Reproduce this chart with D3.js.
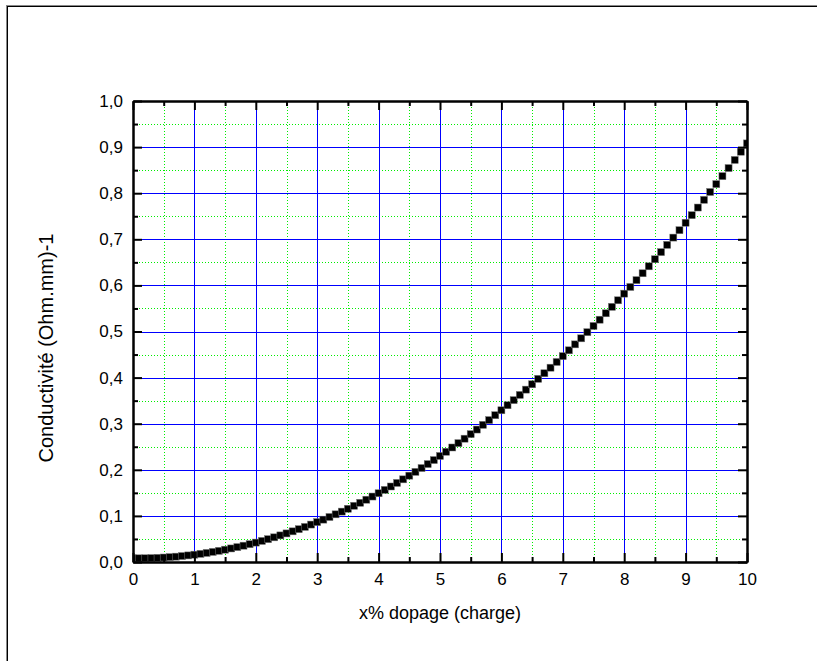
<!DOCTYPE html>
<html><head><meta charset="utf-8">
<script src="https://cdn.jsdelivr.net/npm/d3@7"></script>
<style>body{margin:0;background:#fff} svg{display:block}</style>
</head><body><svg id="c" width="817" height="661"></svg>
<script>
const xValues = [0.0,0.1,0.2,0.3,0.4,0.5,0.6,0.7,0.8,0.9,1.0,1.1,1.2,1.3,1.4,1.5,1.6,1.7,1.8,1.9,2.0,2.1,2.2,2.3,2.4,2.5,2.6,2.7,2.8,2.9,3.0,3.1,3.2,3.3,3.4,3.5,3.6,3.7,3.8,3.9,4.0,4.1,4.2,4.3,4.4,4.5,4.6,4.7,4.8,4.9,5.0,5.1,5.2,5.3,5.4,5.5,5.6,5.7,5.8,5.9,6.0,6.1,6.2,6.3,6.4,6.5,6.6,6.7,6.8,6.9,7.0,7.1,7.2,7.3,7.4,7.5,7.6,7.7,7.8,7.9,8.0,8.1,8.2,8.3,8.4,8.5,8.6,8.7,8.8,8.9,9.0,9.1,9.2,9.3,9.4,9.5,9.6,9.7,9.8,9.9,10.0];
const conductivity = [0.0080,0.0080,0.0081,0.0085,0.0090,0.0097,0.0106,0.0116,0.0129,0.0143,0.0159,0.0177,0.0197,0.0219,0.0242,0.0267,0.0294,0.0323,0.0354,0.0386,0.0421,0.0457,0.0495,0.0535,0.0577,0.0620,0.0665,0.0712,0.0761,0.0812,0.0865,0.0919,0.0976,0.1034,0.1093,0.1155,0.1219,0.1284,0.1351,0.1420,0.1491,0.1564,0.1638,0.1715,0.1793,0.1873,0.1955,0.2038,0.2124,0.2211,0.2300,0.2391,0.2484,0.2578,0.2675,0.2773,0.2873,0.2975,0.3078,0.3184,0.3291,0.3400,0.3511,0.3624,0.3739,0.3855,0.3973,0.4094,0.4215,0.4339,0.4465,0.4592,0.4721,0.4852,0.4985,0.5120,0.5256,0.5395,0.5535,0.5677,0.5821,0.5966,0.6114,0.6263,0.6414,0.6567,0.6722,0.6879,0.7037,0.7197,0.7359,0.7523,0.7689,0.7856,0.8026,0.8197,0.8370,0.8545,0.8721,0.8900,0.9080];
const xTicks = [0,1,2,3,4,5,6,7,8,9,10];
const xMinorTicks = [0.5,1.5,2.5,3.5,4.5,5.5,6.5,7.5,8.5,9.5];
const yTicks = [0,0.1,0.2,0.3,0.4,0.5,0.6,0.7,0.8,0.9,1.0];
const yMinorTicks = [0.05,0.15,0.25,0.35,0.45,0.55,0.65,0.75,0.85,0.95];
const xTitle = "x% dopage (charge)";
const yTitle = "Conductivité (Ohm.mm)-1";

const svg = d3.select("#c");
const W = 817, H = 661;
const m = {left:133, right:747, top:101, bottom:562};
const x = d3.scaleLinear().domain([0,10]).range([m.left, m.right]);
const y = d3.scaleLinear().domain([0,1]).range([m.bottom, m.top]);
const font = "Liberation Sans, Arial, sans-serif";

// outer frame (top and left edges)
svg.append("line").attr("x1",6).attr("x2",W).attr("y1",5.5).attr("y2",5.5).attr("stroke","#888").attr("stroke-width",1);
svg.append("line").attr("x1",7).attr("x2",W).attr("y1",6.5).attr("y2",6.5).attr("stroke","#000").attr("stroke-width",1);
svg.append("line").attr("x1",6.5).attr("x2",6.5).attr("y1",5).attr("y2",H).attr("stroke","#888").attr("stroke-width",1);
svg.append("line").attr("x1",7.5).attr("x2",7.5).attr("y1",6).attr("y2",H).attr("stroke","#000").attr("stroke-width",1);

// grid
const g = svg.append("g");
g.selectAll(".vmin").data(xMinorTicks).join("line")
  .attr("x1",d=>Math.round(x(d))+0.5).attr("x2",d=>Math.round(x(d))+0.5)
  .attr("y1",m.top).attr("y2",m.bottom)
  .attr("stroke","#00ee00").attr("stroke-width",1).attr("stroke-dasharray","1,2");
g.selectAll(".hmin").data(yMinorTicks).join("line")
  .attr("y1",d=>Math.round(y(d))+0.5).attr("y2",d=>Math.round(y(d))+0.5)
  .attr("x1",m.left).attr("x2",m.right)
  .attr("stroke","#00ee00").attr("stroke-width",1).attr("stroke-dasharray","1,2");
g.selectAll(".vmaj").data(xTicks.slice(1,-1)).join("line")
  .attr("x1",d=>Math.round(x(d))+0.5).attr("x2",d=>Math.round(x(d))+0.5)
  .attr("y1",m.top).attr("y2",m.bottom)
  .attr("stroke","#0000ff").attr("stroke-width",1);
g.selectAll(".hmaj").data(yTicks.slice(1,-1)).join("line")
  .attr("y1",d=>Math.round(y(d))+0.5).attr("y2",d=>Math.round(y(d))+0.5)
  .attr("x1",m.left).attr("x2",m.right)
  .attr("stroke","#0000ff").attr("stroke-width",1);

// markers
svg.append("clipPath").attr("id","clip").append("rect")
  .attr("x",m.left).attr("y",m.top).attr("width",m.right-m.left).attr("height",m.bottom-m.top);
const s = 7;
svg.append("g").attr("clip-path","url(#clip)")
  .selectAll("rect").data(xValues.map((v,i)=>[v,conductivity[i]])).join("rect")
  .attr("x",d=>x(d[0])-s/2).attr("y",d=>y(d[1])-s/2)
  .attr("width",s).attr("height",s)
  .attr("fill","#000").attr("stroke","#777").attr("stroke-width",0.5);

// axes
const fmt = d => d3.format(".1f")(d).replace(".", ",");
function styleAxis(sel){
  sel.select(".domain").attr("stroke","#000").attr("stroke-width",2);
  sel.selectAll(".tick line").attr("stroke","#000").attr("stroke-width",2);
  sel.selectAll("text").attr("font-family",font).attr("font-size",17).attr("fill","#000");
}
svg.append("g").attr("transform",`translate(0,${m.bottom})`)
  .call(d3.axisBottom(x).tickValues(xTicks).tickSize(-9).tickSizeOuter(0).tickPadding(11).tickFormat(d3.format("d")))
  .call(styleAxis);
svg.append("g").attr("transform",`translate(0,${m.bottom})`)
  .call(d3.axisBottom(x).tickValues(xMinorTicks).tickSize(-5).tickSizeOuter(0).tickFormat(""))
  .call(styleAxis);
svg.append("g").attr("transform",`translate(0,${m.top})`)
  .call(d3.axisTop(x).tickValues(xTicks).tickSize(-9).tickSizeOuter(0).tickFormat(""))
  .call(styleAxis);
svg.append("g").attr("transform",`translate(0,${m.top})`)
  .call(d3.axisTop(x).tickValues(xMinorTicks).tickSize(-5).tickSizeOuter(0).tickFormat(""))
  .call(styleAxis);
svg.append("g").attr("transform",`translate(${m.left},0)`)
  .call(d3.axisLeft(y).tickValues(yTicks).tickSize(-9).tickSizeOuter(0).tickPadding(10).tickFormat(fmt))
  .call(styleAxis);
svg.append("g").attr("transform",`translate(${m.left},0)`)
  .call(d3.axisLeft(y).tickValues(yMinorTicks).tickSize(-5).tickSizeOuter(0).tickFormat(""))
  .call(styleAxis);
svg.append("g").attr("transform",`translate(${m.right},0)`)
  .call(d3.axisRight(y).tickValues(yTicks).tickSize(-9).tickSizeOuter(0).tickFormat(""))
  .call(styleAxis);
svg.append("g").attr("transform",`translate(${m.right},0)`)
  .call(d3.axisRight(y).tickValues(yMinorTicks).tickSize(-5).tickSizeOuter(0).tickFormat(""))
  .call(styleAxis);

// titles
svg.append("text").attr("x",(m.left+m.right)/2).attr("y",614).attr("text-anchor","middle")
  .attr("dominant-baseline","middle")
  .attr("font-family",font).attr("font-size",18).text(xTitle);
svg.append("text").attr("transform",`translate(48,348) rotate(-90)`)
  .attr("text-anchor","middle").attr("dominant-baseline","middle")
  .attr("font-family",font).attr("font-size",20).text(yTitle);
</script>
</body></html>
